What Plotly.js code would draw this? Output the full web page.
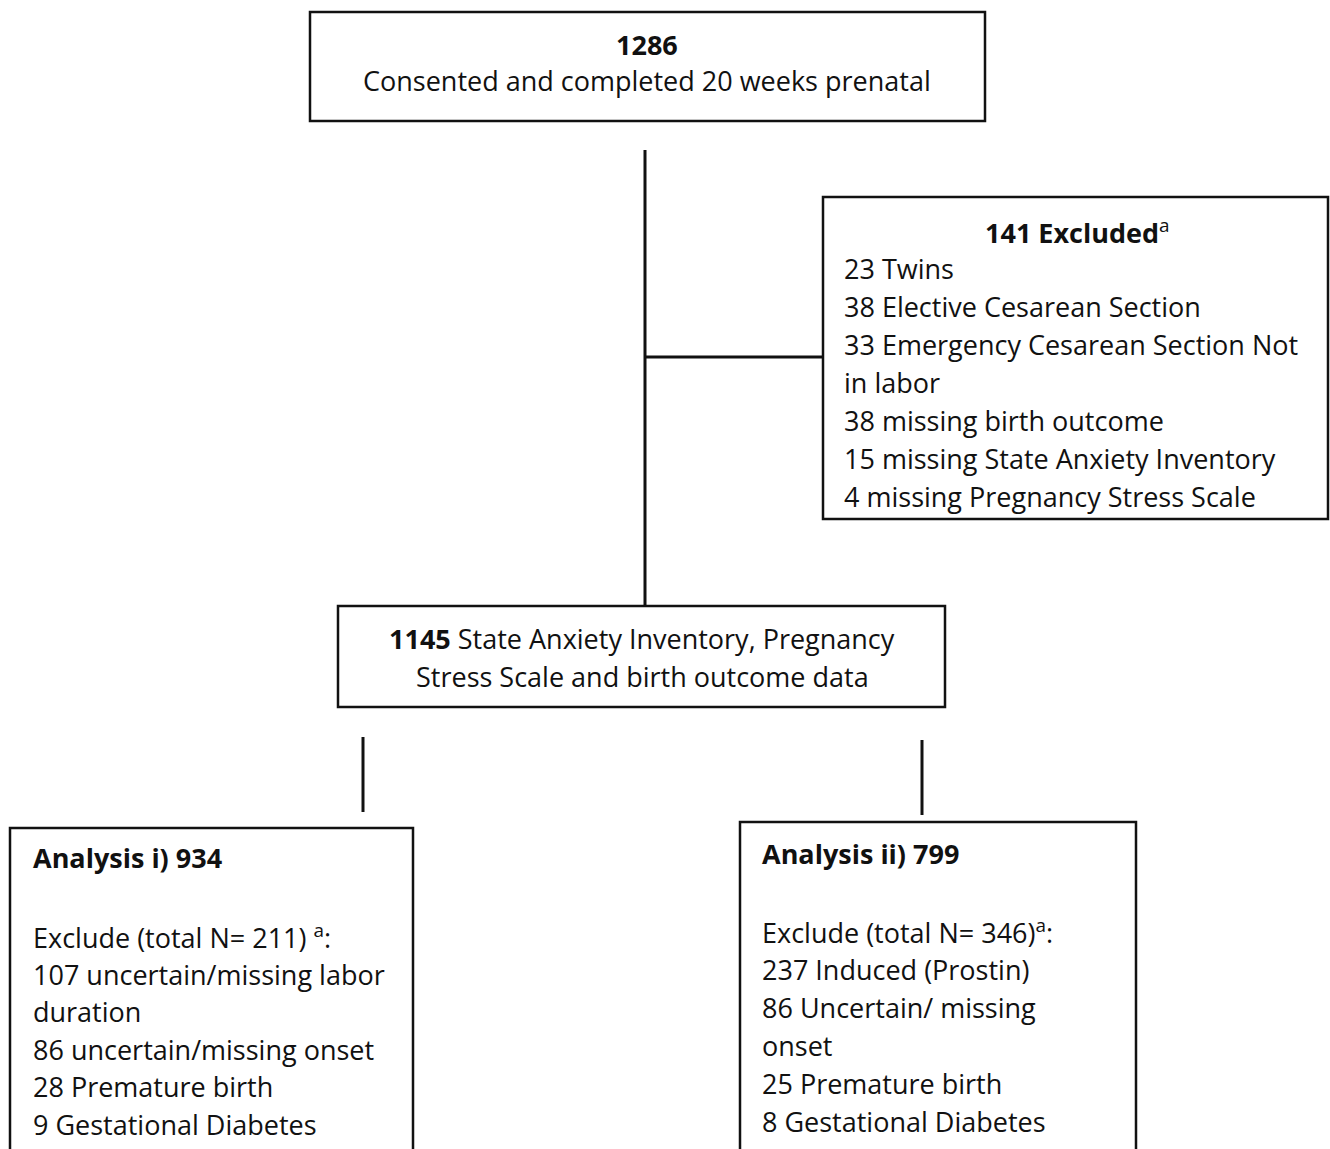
<!DOCTYPE html>
<html>
<head>
<meta charset="utf-8">
<script src="https://cdn.plot.ly/plotly-3.0.1.min.js"></script>
<style>html,body{margin:0;padding:0;background:#fff;}#chart{width:1330px;height:1149px;}</style>
</head>
<body>
<div id="chart"></div>
<script>
// ---- Data ----
const stageCounts = [1286, 1145];
const stageLabels = ["Consented and completed 20 weeks prenatal",
                     "State Anxiety Inventory, Pregnancy|Stress Scale and birth outcome data"];
const excludedTotal = 141;
const excludedCounts = [23, 38, 33, 38, 15, 4];
const excludedReasons = ["Twins", "Elective Cesarean Section", "Emergency Cesarean Section Not|in labor",
                         "missing birth outcome", "missing State Anxiety Inventory", "missing Pregnancy Stress Scale"];
const analysisNames = ["Analysis i)", "Analysis ii)"];
const analysisN = [934, 799];
const analysisExcludeTotal = [211, 346];
const analysis1Counts = [107, 86, 28, 9];
const analysis1Reasons = ["uncertain/missing labor|duration", "uncertain/missing onset", "Premature birth", "Gestational Diabetes"];
const analysis2Counts = [237, 86, 25, 8];
const analysis2Reasons = ["Induced (Prostin)", "Uncertain/ missing|onset", "Premature birth", "Gestational Diabetes"];

// ---- Layout helpers ----
const FONT = "'Open Sans', Lato, sans-serif";
const FS = 27;
const LH = 38;
const annotations = [];
const shapes = [];
function txt(x, y, text, anchor) {
  annotations.push({x: x, y: y, xref: 'x', yref: 'y', text: text, showarrow: false,
    xanchor: anchor || 'left', yanchor: 'middle', font: {family: FONT, size: FS, color: '#111'}});
}
function box(x0, y0, x1, y1) {
  shapes.push({type: 'rect', xref: 'x', yref: 'y', x0: x0, y0: y0, x1: x1, y1: y1,
    line: {color: '#111', width: 2.5}, fillcolor: 'rgba(0,0,0,0)'});
}
function line(x0, y0, x1, y1) {
  shapes.push({type: 'line', xref: 'x', yref: 'y', x0: x0, y0: y0, x1: x1, y1: y1,
    line: {color: '#111', width: 3}});
}
function listLines(counts, reasons) {
  const out = [];
  counts.forEach((c, i) => {
    reasons[i].split('|').forEach((part, j) => out.push(j === 0 ? c + ' ' + part : part));
  });
  return out;
}

// Top box
box(310, 12, 985, 121);
txt(647, 44, '<b>' + stageCounts[0] + '</b>', 'center');
txt(647, 80, stageLabels[0], 'center');

// connectors
line(645, 150, 645, 606);
line(645, 357, 823, 357);

// Excluded box
box(823, 197, 1328, 519);
txt(1077, 231, '<b>' + excludedTotal + ' Excluded</b><sup>a</sup>', 'center');
listLines(excludedCounts, excludedReasons).forEach((s, i) => txt(842, 268 + i * LH, s));

// Middle box
box(338, 606, 945, 707);
const mid = stageLabels[1].split('|');
txt(642, 638, '<b>' + stageCounts[1] + '</b> ' + mid[0], 'center');
txt(642, 676, mid[1], 'center');

// branch lines
line(363, 737, 363, 812);
line(922, 740, 922, 815);

// Analysis boxes
box(10, 828, 413, 1160);
txt(31, 857, '<b>' + analysisNames[0] + ' ' + analysisN[0] + '</b>');
txt(31, 936, 'Exclude (total N= ' + analysisExcludeTotal[0] + ') <sup>a</sup>:');
listLines(analysis1Counts, analysis1Reasons).forEach((s, i) => txt(31, 974 + i * 37.5, s));

box(740, 822, 1136, 1160);
txt(760, 853, '<b>' + analysisNames[1] + ' ' + analysisN[1] + '</b>');
txt(760, 931, 'Exclude (total N= ' + analysisExcludeTotal[1] + ')<sup>a</sup>:');
listLines(analysis2Counts, analysis2Reasons).forEach((s, i) => txt(760, 969 + i * 38, s));

const layout = {
  width: 1330, height: 1149,
  margin: {l: 0, r: 0, t: 0, b: 0},
  paper_bgcolor: '#fff', plot_bgcolor: '#fff',
  xaxis: {range: [0, 1330], visible: false, fixedrange: true},
  yaxis: {range: [1149, 0], visible: false, fixedrange: true},
  showlegend: false,
  shapes: shapes,
  annotations: annotations
};
Plotly.newPlot('chart', [{x: [0], y: [0], mode: 'markers', marker: {opacity: 0}, hoverinfo: 'skip'}], layout, {staticPlot: true});
</script>
</body>
</html>
